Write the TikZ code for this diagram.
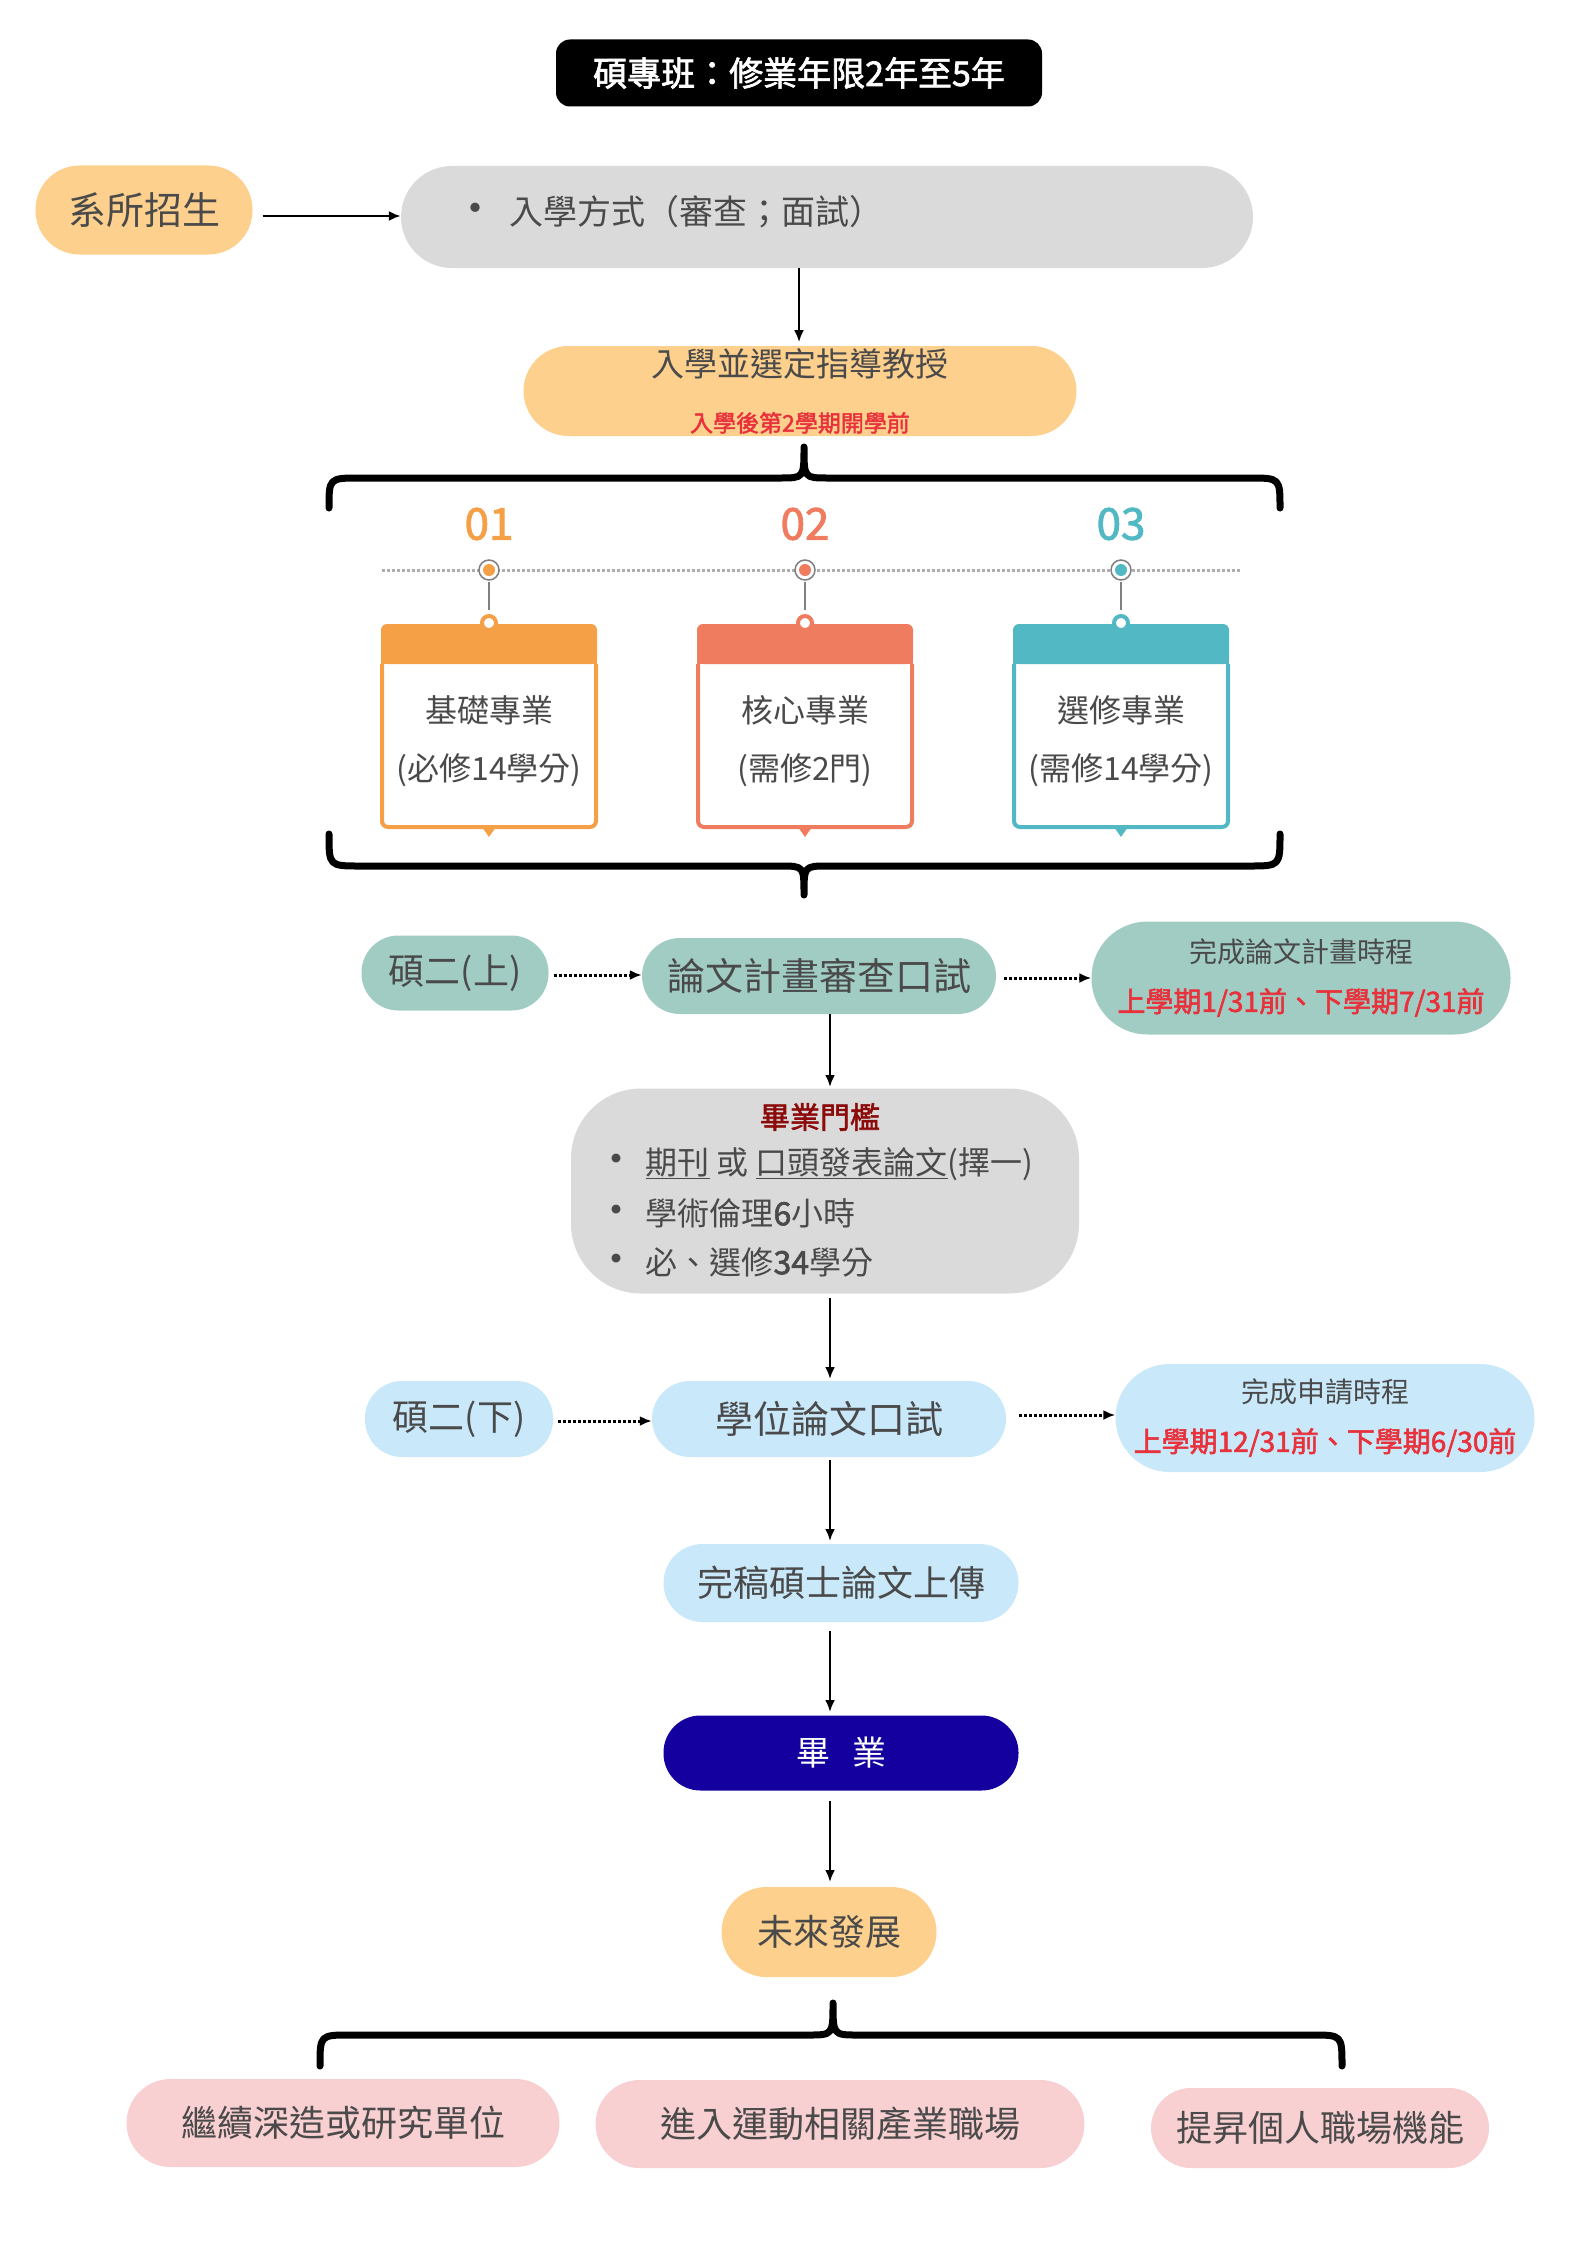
\documentclass[tikz,border=0pt]{standalone}
\usepackage{fontspec}
\setmainfont{Noto Sans CJK TC}
\newfontfamily\cjkb{Noto Sans CJK TC}[FakeBold=2]
\usetikzlibrary{arrows.meta}
\definecolor{txt}{HTML}{4A4A4A}
\definecolor{org}{HTML}{FDD08E}
\definecolor{gry}{HTML}{DADADA}
\definecolor{tea}{HTML}{A1CCC4}
\definecolor{lbl}{HTML}{C9E8FA}
\definecolor{pnk}{HTML}{F9D0D2}
\definecolor{navy}{HTML}{14009E}
\definecolor{redt}{HTML}{E8313A}
\definecolor{cA}{HTML}{F5A046}
\definecolor{cB}{HTML}{EF7C5E}
\definecolor{cC}{HTML}{52B9C4}
\definecolor{drk}{HTML}{8B0A0A}
\newcommand{\fs}[1]{\fontsize{#1pt}{\dimexpr #1pt*5/4\relax}\selectfont}
\tikzset{
 pill/.style={rounded corners=#1, inner sep=0pt, align=center, text=txt},
 pill/.default=30pt,
 conn/.style={line width=2.5pt,-{Latex[length=12pt,width=10pt]}},
 dconn/.style={line width=3pt,dotted,-{Latex[length=12pt,width=10pt]}},
 brace/.style={line width=7pt,line cap=round,line join=round},
}
\begin{document}
\begin{tikzpicture}[x=1pt,y=-1pt]
\useasboundingbox (0,0) rectangle (1587,2245);
% title
\node[fill=black,rounded corners=14pt,minimum width=486pt,minimum height=67pt,text=white,inner sep=0pt] (title) at (799,73) {\cjkb\fs{34}碩專班：修業年限2年至5年};
% row 1
\node[pill=44pt,fill=org,minimum width=217pt,minimum height=89pt] (rec) at (144,210) {\fs{38}系所招生};
\node[pill=51pt,fill=gry,minimum width=852pt,minimum height=102pt] (adm) at (827,217) {};
\node[anchor=west,text=txt] (admt) at (450,212) {\fs{34}{\fs{44}•}\hspace{12pt}入學方式（審查；面試）};
\draw[conn] (rec.east)+(10,6) coordinate (r1) (r1) -- (adm.west|-r1);
\draw[conn] (adm.south-|title) -- ++(0,74) coordinate (a2);
\node[pill=45pt,fill=org,minimum width=553pt,minimum height=90pt,font=\fs{33}] (sel) at (800,391) {入學並選定指導教授\\[14pt]{\cjkb\fs{23}\color{redt}入學後第2學期開學前}};
% top brace
\draw[brace] (329,508) .. controls (329,478) .. (360,478) -- (780,478) .. controls (804,478) .. (804,447)
 (804,447) .. controls (804,478) .. (828,478) -- (1249,478) .. controls (1280,478) .. (1280,508);
% timeline
\draw[gry!80!black,line width=3pt,dotted] (382,570) -- (1241,570);
\foreach \x/\c/\n/\a/\b [count=\i] in {489/cA/01/基礎專業/(必修14學分),805/cB/02/核心專業/(需修2門),1121/cC/03/選修專業/(需修14學分)}{
 \node[text=\c] (num\i) at (\x,524) {\cjkb\fs{44}\n};
 \draw[gray,line width=1.5pt,fill=white] (\x,570) circle (10pt);
 \fill[\c] (\x,570) circle (6pt);
 \draw[gray,line width=1.5pt] (\x,582) -- (\x,610);
 \fill[white] (\x-107,626) rectangle (\x+107,827);
 \fill[\c] (\x-7,827) -- (\x,837) -- (\x+7,827) -- cycle;
 \draw[\c,line width=4pt,rounded corners=6pt] (\x-107,664) -- (\x-107,827) -- (\x+107,827) -- (\x+107,664);
 \fill[\c,rounded corners=6pt] (\x-108,664) rectangle (\x+108,624);
 \fill[\c] (\x-108,664) rectangle (\x+108,650);
 \draw[\c,line width=4pt,fill=white] (\x,623) circle (7pt);
 \node[text=txt,align=center,font=\fs{32}] (card\i) at (\x,741) {\a\\[18pt]\b};
}
% bottom brace
\draw[brace] (329,834) .. controls (329,866) .. (360,866) -- (780,866) .. controls (804,866) .. (804,895)
 (804,895) .. controls (804,866) .. (828,866) -- (1249,866) .. controls (1280,866) .. (1280,834);
% row thesis proposal
\node[pill=37pt,fill=tea,minimum width=187pt,minimum height=75pt] (y2a) at (455,973) {\fs{36}碩二(上)};
\node[pill=38pt,fill=tea,minimum width=354pt,minimum height=76pt] (prop) at (819,976) {\fs{38}論文計畫審查口試};
\node[pill=56pt,fill=tea,minimum width=419pt,minimum height=113pt,font=\fs{28}] (propt) at (1301,978) {完成論文計畫時程\\[14pt]{\cjkb\fs{28}\color{redt}上學期1/31前、下學期7/31前}};
\draw[dconn] (y2a.east)+(5,2) coordinate (d1) (d1) -- (prop.west|-d1);
\draw[dconn] (prop.east)+(8,2) coordinate (d2) (d2) -- (propt.west|-d2);
% graduation threshold
\node[pill=70pt,fill=gry,minimum width=508pt,minimum height=205pt] (thr) at (825,1191) {};
\node[text=drk] (thrt) at (820,1117) {\cjkb\fs{30}畢業門檻};
\node[anchor=west,text=txt] (l1) at (592,1164) {\fs{32}{\fs{42}•}\hspace{8pt}\underline{期刊} 或 \underline{口頭發表論文}(擇一)};
\node[anchor=west,text=txt] (l2) at (592,1213) {\fs{32}{\fs{42}•}\hspace{8pt}學術倫理{\cjkb 6}小時};
\node[anchor=west,text=txt] (l3) at (592,1262) {\fs{32}{\fs{42}•}\hspace{8pt}必、選修{\cjkb 34}學分};
\draw[conn] (830,1014) -- (830,1087);
\draw[conn] (830,1298) -- (830,1379);
% row oral defense
\node[pill=37pt,fill=lbl,minimum width=188pt,minimum height=76pt] (y2b) at (459,1419) {\fs{36}碩二(下)};
\node[pill=38pt,fill=lbl,minimum width=354pt,minimum height=76pt] (oral) at (829,1419) {\fs{38}學位論文口試};
\node[pill=54pt,fill=lbl,minimum width=419pt,minimum height=108pt,font=\fs{28}] (oralt) at (1325,1418) {完成申請時程\\[14pt]{\cjkb\fs{28}\color{redt}上學期12/31前、下學期6/30前}};
\draw[dconn] (y2b.east)+(5,2) coordinate (d3) (d3) -- (oral.west|-d3);
\draw[dconn] (oral.east)+(13,-4) coordinate (d4) (d4) -- (oralt.west|-d4);
\draw[conn] (830,1460) -- (830,1541);
\node[pill=39pt,fill=lbl,minimum width=355pt,minimum height=78pt] (up) at (841,1583) {\fs{36}完稿碩士論文上傳};
\draw[conn] (830,1631) -- (830,1712);
\node[pill=37pt,fill=navy,minimum width=355pt,minimum height=75pt,text=white] (grad) at (841,1753) {\fs{34}畢\hspace{22pt}業};
\draw[conn] (830,1801) -- (830,1882);
\node[pill=45pt,fill=org,minimum width=215pt,minimum height=90pt] (fut) at (829,1932) {\fs{36}未來發展};
% last brace
\draw[brace] (320,2066) .. controls (320,2035) .. (350,2035) -- (808,2035) .. controls (833,2035) .. (833,2003)
 (833,2003) .. controls (833,2035) .. (858,2035) -- (1312,2035) .. controls (1342,2035) .. (1342,2066);
\node[pill=44pt,fill=pnk,minimum width=433pt,minimum height=88pt] (o1) at (343,2123) {\fs{36}繼續深造或研究單位};
\node[pill=44pt,fill=pnk,minimum width=489pt,minimum height=88pt] (o2) at (840,2124) {\fs{36}進入運動相關產業職場};
\node[pill=40pt,fill=pnk,minimum width=338pt,minimum height=80pt] (o3) at (1320,2128) {\fs{36}提昇個人職場機能};
\end{tikzpicture}
\end{document}
